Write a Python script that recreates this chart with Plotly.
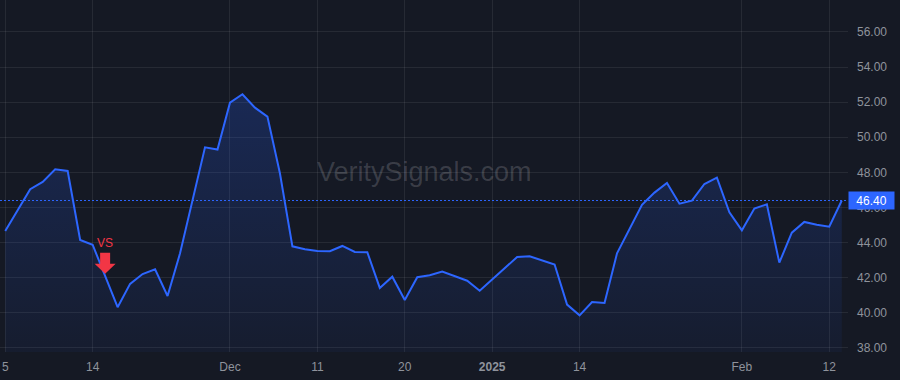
import pandas as pd
import plotly.graph_objects as go

# ---- data ----
HOLIDAYS = ["2024-11-28", "2024-12-25", "2025-01-01", "2025-01-09", "2025-01-20"]
DATES = [d.strftime("%Y-%m-%d") for d in pd.bdate_range("2024-11-05", "2025-02-13")
         if d.strftime("%Y-%m-%d") not in HOLIDAYS]

PRICES = [
    44.66, 45.86, 47.04, 47.46, 48.18, 48.08, 44.15, 43.88, 42.05, 40.32,
    41.65, 42.21, 42.48, 40.96, 43.39, 46.41, 49.43, 49.30, 51.97, 52.45,
    51.69, 51.18, 47.95, 43.79, 43.62, 43.53, 43.51, 43.81, 43.47, 43.45,
    41.42, 42.06, 40.73, 42.03, 42.14, 42.35, 42.10, 41.83, 41.26, 41.91,
    42.54, 43.18, 43.22, 42.97, 42.75, 40.47, 39.86, 40.62, 40.56, 43.39,
    44.78, 46.15, 46.85, 47.40, 46.22, 46.39, 47.34, 47.70, 45.73, 44.70,
    45.94, 46.18, 42.86, 44.57, 45.18, 45.02, 44.91, 46.40,
]

TICK_DATES = ["2024-11-05", "2024-11-14", "2024-12-02", "2024-12-11", "2024-12-20",
              "2025-01-02", "2025-01-14", "2025-02-03", "2025-02-12"]
TICK_LABELS = ["5", "14", "Dec", "11", "20", "<b>2025</b>", "14", "Feb", "12"]

Y_TICKS = [38, 40, 42, 44, 46, 48, 50, 52, 54, 56]
SIGNAL_DATE = "2024-11-15"
SIGNAL_TEXT = "VS"
LAST_PRICE = PRICES[-1]
WATERMARK = "VeritySignals.com"

# ---- style ----
BG = "#151924"
GRID = "rgba(255,255,255,0.075)"
LINE = "#2d66ff"
TEXT = "#8f939c"
RED = "#f23645"
FONT = "Liberation Sans, Arial, sans-serif"

Y_MIN, Y_MAX = 37.77, 57.82
X_MIN, X_MAX = -0.42, len(DATES) - 0.5

fig = go.Figure()

# baseline for area fill
fig.add_trace(go.Scatter(
    x=DATES, y=[Y_MIN] * len(DATES), mode="lines",
    line=dict(width=0, color="rgba(0,0,0,0)"), hoverinfo="skip", showlegend=False,
))
fig.add_trace(go.Scatter(
    x=DATES, y=PRICES, mode="lines",
    line=dict(color=LINE, width=2),
    fill="tonexty",
    fillgradient=dict(type="vertical",
                      colorscale=[[0, "rgba(41,98,255,0.05)"], [1, "rgba(41,98,255,0.22)"]]),
    showlegend=False,
))

# last price dotted line
fig.add_shape(type="line", xref="paper", x0=0, x1=1, yref="y", y0=LAST_PRICE, y1=LAST_PRICE,
              line=dict(color=LINE, width=1, dash="2px,2px"))

# signal arrow (pixel path anchored at the data point)
sig_idx = DATES.index(SIGNAL_DATE)
sig_val = PRICES[sig_idx]
fig.add_shape(
    type="path", xref="x", yref="y", xsizemode="pixel", ysizemode="pixel",
    xanchor=SIGNAL_DATE, yanchor=sig_val,
    path="M 0 3 L -10.5 13 L -5 13 L -5 24 L 5 24 L 5 13 L 10.5 13 Z",
    fillcolor=RED, line=dict(width=0),
)
fig.add_annotation(x=SIGNAL_DATE, y=sig_val, text=SIGNAL_TEXT, showarrow=False,
                   yshift=34, font=dict(color=RED, size=12, family=FONT))

# watermark
fig.add_annotation(xref="paper", yref="paper", x=0.5, y=0.511, text=WATERMARK, showarrow=False,
                   font=dict(color="rgba(255,255,255,0.16)", size=27, family=FONT))

# last price label
fig.add_annotation(xref="paper", yref="y", x=1, y=LAST_PRICE, xanchor="left",
                   text=f"{LAST_PRICE:.2f}", showarrow=False, bgcolor=LINE,
                   width=41, height=13, borderpad=2, align="center",
                   font=dict(color="#ffffff", size=12, family=FONT))

fig.update_layout(
    width=900, height=380,
    margin=dict(l=0, r=52, t=0, b=28),
    paper_bgcolor=BG, plot_bgcolor=BG,
    font=dict(family=FONT, size=12, color=TEXT),
    xaxis=dict(type="category", range=[X_MIN, X_MAX], tickmode="array",
               tickvals=TICK_DATES, ticktext=TICK_LABELS, showgrid=True, gridcolor=GRID,
               gridwidth=1, zeroline=False, showline=False, ticks="", ticklabelstandoff=6,
               fixedrange=True),
    yaxis=dict(side="right", range=[Y_MIN, Y_MAX], tickmode="array", tickvals=Y_TICKS,
               tickformat=".2f", showgrid=True, gridcolor=GRID, gridwidth=1, zeroline=False,
               showline=False, ticks="", ticklabelstandoff=8, fixedrange=True),
    hovermode=False,
)

fig.write_html("out.html")
